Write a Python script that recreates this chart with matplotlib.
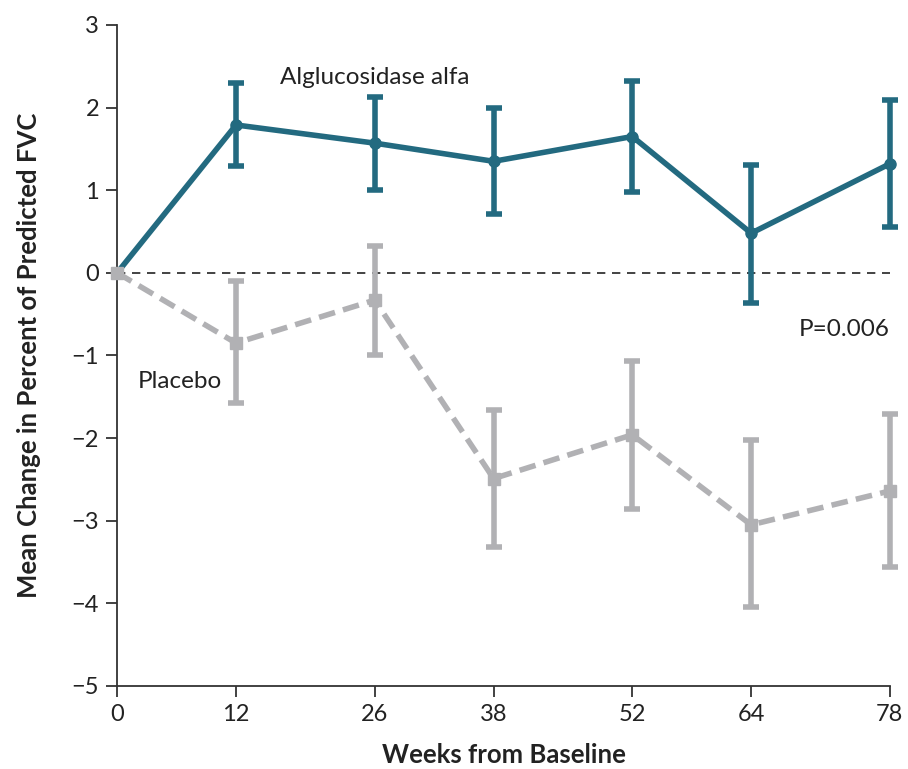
import matplotlib
matplotlib.use('Agg')
from matplotlib import pyplot as plt

# data
weeks = [0, 12, 26, 38, 52, 64, 78]

alglu_mean = [0.0, 1.79, 1.57, 1.35, 1.65, 0.48, 1.32]
alglu_hi = [0.0, 2.30, 2.13, 1.99, 2.32, 1.31, 2.09]
alglu_lo = [0.0, 1.29, 1.00, 0.71, 0.98, -0.37, 0.55]

placebo_mean = [0.0, -0.85, -0.33, -2.49, -1.96, -3.05, -2.64]
placebo_hi = [0.0, -0.10, 0.33, -1.66, -1.07, -2.02, -1.71]
placebo_lo = [0.0, -1.58, -1.00, -3.32, -2.86, -4.05, -3.56]

yticks = [3, 2, 1, 0, -1, -2, -3, -4, -5]

teal = '#236a80'
grey = '#b1b1b4'

plt.rcParams['font.family'] = ['Lato', 'DejaVu Sans']

fig = plt.figure(figsize=(9.08, 7.69), dpi=100)
ax = fig.add_axes([0.129, 0.108, 0.851, 0.8595])

# zero reference line
ax.plot([0, 78], [0, 0], color='#222222', lw=1.2, ls=(0, (5, 4)), zorder=1)

# placebo (dashed grey with squares), drawn over the teal line
p_err = [[m - l for m, l in zip(placebo_mean, placebo_lo)],
         [h - m for m, h in zip(placebo_mean, placebo_hi)]]
eb = ax.errorbar(weeks[1:], placebo_mean[1:],
                 yerr=[p_err[0][1:], p_err[1][1:]],
                 fmt='none', ecolor=grey, elinewidth=4, capsize=6, capthick=4, zorder=4)
for art in eb.lines[1] + eb.lines[2]:
    art.set_clip_on(False)
ax.plot(weeks, placebo_mean, color=grey, lw=4, ls=(0, (3, 1.5)),
        marker='s', ms=9, mfc=grey, mec=grey, zorder=4, clip_on=False)

# alglucosidase alfa (solid teal with circles)
a_err = [[m - l for m, l in zip(alglu_mean, alglu_lo)],
         [h - m for m, h in zip(alglu_mean, alglu_hi)]]
eb = ax.errorbar(weeks[1:], alglu_mean[1:],
                 yerr=[a_err[0][1:], a_err[1][1:]],
                 fmt='none', ecolor=teal, elinewidth=4, capsize=6, capthick=4, zorder=3)
for art in eb.lines[1] + eb.lines[2]:
    art.set_clip_on(False)
ax.plot(weeks, alglu_mean, color=teal, lw=4, marker='o', ms=8,
        mfc=teal, mec=teal, zorder=3, clip_on=False)

ax.text(26, 2.37, 'Alglucosidase alfa', fontsize=17.5, color='#222222',
        ha='center', va='center')
ax.text(6.3, -1.32, 'Placebo', fontsize=17.5, color='#222222',
        ha='center', va='center')
ax.text(73.4, -0.68, 'P=0.006', fontsize=17.5, color='#222222',
        ha='center', va='center')

ax.set_xlim(0, 78)
ax.set_ylim(-5, 3)
ax.set_xticks(weeks)
ax.set_yticks(yticks)
ax.set_yticklabels([str(t).replace('-', '\u2212') for t in yticks])

for s in ['top', 'right']:
    ax.spines[s].set_visible(False)
for s in ['left', 'bottom']:
    ax.spines[s].set_linewidth(1.3)
    ax.spines[s].set_color('#333333')
ax.tick_params(direction='out', length=8, width=1.3, colors='#333333',
               labelsize=17, labelcolor='#222222', pad=5)
ax.patch.set_visible(False)

ax.set_xlabel('Weeks from Baseline', fontsize=18.5, fontweight='bold',
              labelpad=13, color='#222222')
ax.set_ylabel('Mean Change in Percent of Predicted FVC', fontsize=18.5,
              fontweight='bold', labelpad=22, color='#222222')

fig.savefig('out.png', dpi=100)
